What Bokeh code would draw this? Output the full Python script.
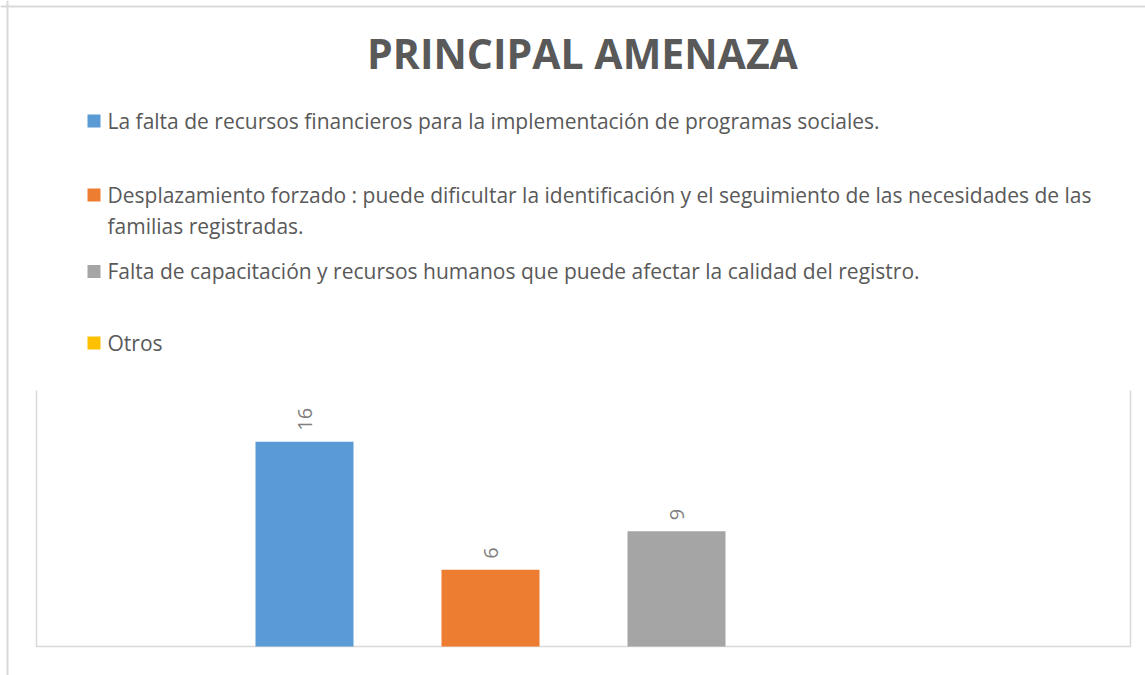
import numpy as np
from bokeh.plotting import figure
from bokeh.models import Range1d, Label, BoxAnnotation, Span, ColumnDataSource
from bokeh.core.properties import value
from bokeh.embed import file_html
from bokeh.resources import INLINE

# ---------------- data ----------------
title_text = "PRINCIPAL AMENAZA"
categories = [
    "La falta de recursos financieros para la implementación de programas sociales.",
    "Desplazamiento forzado : puede dificultar la identificación y el seguimiento de las necesidades de las\nfamilias registradas.",
    "Falta de capacitación y recursos humanos que puede afectar la calidad del registro.",
    "Otros",
]
counts = [16, 6, 9, None]
colors = ["#5B9BD5", "#ED7D31", "#A5A5A5", "#FFC000"]

# ---------------- layout (pixel positions on the canvas) ----------------
W, H = 1145, 675
CAT_PX = 186            # pixel spacing of categories
FIRST_CAT_PX = 304      # canvas x of first category centre
PLOT_L, PLOT_R = 36, 1130
PLOT_T, PLOT_B = 390, 646
Y_MAX = 20
PX_PER_UNIT = (PLOT_B - PLOT_T) / Y_MAX
BAR_W = 98 / CAT_PX


def px_x(px):
    return (px - FIRST_CAT_PX) / CAT_PX


def px_y(py):
    return (PLOT_B - py) / PX_PER_UNIT


TEXT = "#595959"
FONT = "Open Sans"
BASE_SHIFT = 0.43   # renderer places 'alphabetic' anchor this many em above the baseline

p = figure(width=W, height=H, x_range=Range1d(px_x(0), px_x(W)),
           y_range=Range1d(px_y(H), px_y(0)), x_axis_type=None, y_axis_type=None,
           toolbar_location=None, output_backend="svg", min_border=0,
           outline_line_color=None, background_fill_color="white",
           border_fill_color="white")
p.grid.visible = False

# outer chart border (left / top visible)
p.add_layout(Span(location=px_x(7), dimension="height", line_color="#d9d9d9", line_width=2))
p.add_layout(Span(location=px_y(6), dimension="width", line_color="#d9d9d9", line_width=2))

# plot area border
xl, xr = px_x(PLOT_L), px_x(PLOT_R)
p.line(x=[xl, xl, xr, xr], y=[Y_MAX, 0, 0, Y_MAX], line_color="#d9d9d9", line_width=1.5)

# bars
idx = [i for i, v in enumerate(counts) if v is not None]
src = ColumnDataSource(dict(
    x=idx,
    top=[counts[i] for i in idx],
    color=[colors[i] for i in idx],
    label=[str(counts[i]) for i in idx],
))
p.vbar(x="x", top="top", bottom=0, width=BAR_W, fill_color="color", line_color=None, source=src)
p.text(x="x", y="top", text="label", source=src, angle=np.pi / 2, text_align="left",
       text_baseline="middle", y_offset=-11, text_font=value(FONT), text_font_size="20px",
       text_color="#7F7F7F")

# title
TS = 41
p.add_layout(Label(x=582, y=H - (70 - BASE_SHIFT * TS), x_units="screen", y_units="screen",
                   text=title_text, text_align="center", text_baseline="alphabetic",
                   text_font=FONT, text_font_style="bold", text_font_size=f"{TS}px",
                   text_color=TEXT))

# legend (manual, to allow wrapping like the original)
LS = 21
sq_centres = [120.5, 194.5, 271, 342.5]   # y of legend squares
for i, (lab, col) in enumerate(zip(categories, colors)):
    c = sq_centres[i]
    p.add_layout(BoxAnnotation(left=87, right=100, top=H - (c - 6.5), bottom=H - (c + 6.5),
                               left_units="screen", right_units="screen",
                               top_units="screen", bottom_units="screen",
                               fill_color=col, fill_alpha=1, line_color=None))
    for j, line in enumerate(lab.split("\n")):
        base = c + 9 + 31 * j
        p.add_layout(Label(x=107, y=H - (base - BASE_SHIFT * LS), x_units="screen",
                           y_units="screen", text=line, text_align="left",
                           text_baseline="alphabetic", text_font=FONT,
                           text_font_size=f"{LS}px", text_color=TEXT))

open("out.html", "w").write(file_html(p, INLINE))
